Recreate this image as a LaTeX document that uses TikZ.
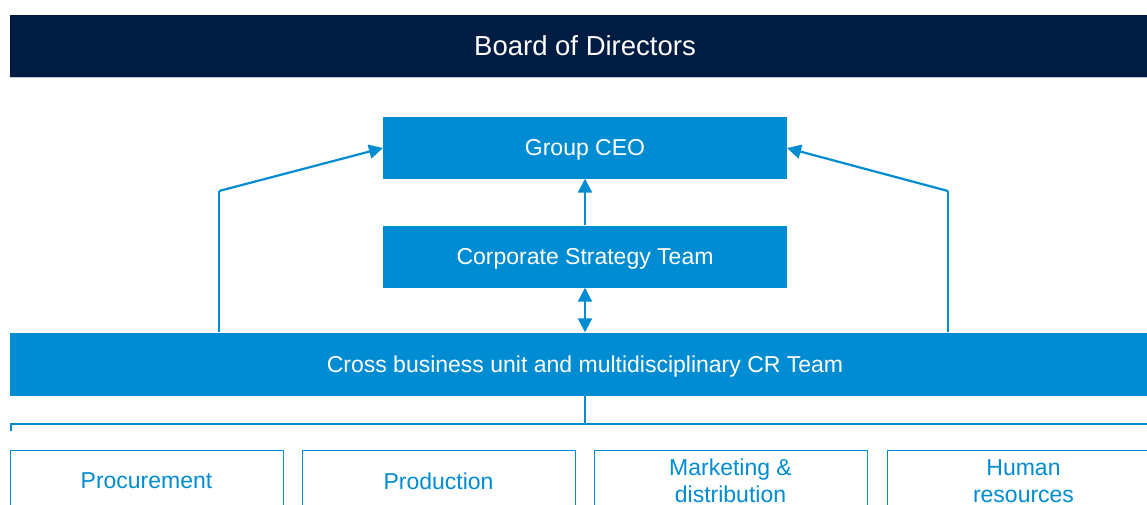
\documentclass[tikz,border=0pt]{standalone}
\usepackage{fontspec}
\setmainfont{Liberation Sans}
\usetikzlibrary{arrows.meta}
\definecolor{navy}{HTML}{001C42}
\definecolor{cblue}{HTML}{008CD2}
\tikzset{
  bar/.style={fill=navy, draw=none, text=white, minimum height=62pt, inner sep=0pt, text height=19.7pt, text depth=0pt, font=\fontsize{27.5}{32}\selectfont},
  bluebox/.style={fill=cblue, draw=none, text=white, minimum height=62pt, inner sep=0pt, text height=16.5pt, text depth=0pt, font=\fontsize{23}{27}\selectfont},
  unitbox/.style={draw=cblue, line width=1pt, fill=white, text=cblue, minimum width=273pt, minimum height=62pt, inner sep=0pt, align=center, font=\fontsize{23}{27}\selectfont},
  conn/.style={draw=cblue, line width=2.2pt},
  thin/.style={draw=cblue, line width=1.5pt},
  tip/.style={-{Triangle[length=14pt,width=14pt]}}
}
\begin{document}
\begin{tikzpicture}[x=1pt,y=-1pt]
\useasboundingbox (0,0) rectangle (1147,504);
\clip (0,0) rectangle (1147,504);
\node[bar, minimum width=1150pt] (board) at (585,46) {Board of Directors};
\draw[color=blue!20!gray!40, line width=0.8pt] (board.south west) -- (board.south east);
\node[bluebox, minimum width=404pt] (ceo) at (585,147.5) {Group CEO};
\node[bluebox, minimum width=404pt] (cst) at (585,256.5) {Corporate Strategy Team};
\node[bluebox, minimum width=1150pt, minimum height=63pt] (cr) at (585,364) {Cross business unit and multidisciplinary CR Team};
\node[unitbox] (proc) at (146.5,481) {Procurement};
\node[unitbox] (prod) at (438.5,481) {Production};
\node[unitbox] (mkt) at (730.5,481) {Marketing \&\\distribution};
\node[unitbox] (hr) at (1023.5,481) {Human\\resources};
% connectors
\coordinate (lbend) at (219,191);
\coordinate (rbend) at (948,191);
\coordinate (ltip) at (383,148);
\coordinate (rtip) at (787,148);
\draw[thin] (lbend |- cr.north) -- (lbend);
\draw[conn, tip] (lbend) -- (ltip);
\draw[thin] (rbend |- cr.north) -- (rbend);
\draw[conn, tip] (rbend) -- (rtip);
\draw[conn, tip] (cst.north) -- (ceo.south);
\draw[conn, {Triangle[length=14pt,width=14pt]}-{Triangle[length=14pt,width=14pt]}] (cst.south) -- (cr.north);
\coordinate (hl) at (11,424);
\coordinate (hr2) at (1160,424);
\draw[thin] (cr.south) -- (cr.south |- hl);
\draw[thin] (11,431) -- (hl) -- (hr2);
\end{tikzpicture}
\end{document}
